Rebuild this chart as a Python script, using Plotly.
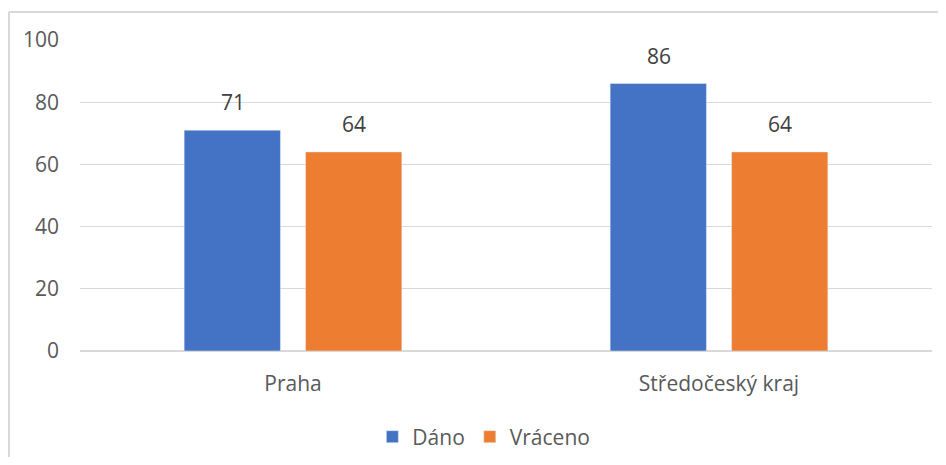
import plotly.graph_objects as go

# Datos
kraje = ["Praha", "Středočeský kraj"]
dano = [71, 86]
vraceno = [64, 64]
y_ticks = [0, 20, 40, 60, 80, 100]

modra = "#4472C4"
oranzova = "#ED7D31"
seda_text = "#595959"

# stranka ma okraj 8 px, proto je graf o 16 px mensi
W, H = 930, 449
ML, MR, MT, MB = 72, 6, 32, 106

fig = go.Figure()
fig.add_trace(go.Bar(x=kraje, y=dano, name="Dáno", marker_color=modra))
fig.add_trace(go.Bar(x=kraje, y=vraceno, name="Vráceno", marker_color=oranzova))

# popisky hodnot nad sloupci
for kraj, d, v in zip(kraje, dano, vraceno):
    for hodnota, posun in ((d, -60.5), (v, 60.5)):
        fig.add_annotation(x=kraj, y=hodnota, text=str(hodnota), showarrow=False,
                           xshift=posun, yanchor="bottom", yshift=12,
                           font=dict(size=21, color="#404040"))

# ramecek grafu (jen levy a horni okraj jsou videt)
pw, ph = W - ML - MR, H - MT - MB
x0 = (1 - ML) / pw
x1 = (W - ML) / pw
y_top = (H - MB - 4) / ph
y_bot = -MB / ph
fig.add_shape(type="line", xref="paper", yref="paper", x0=x0, x1=x0, y0=y_bot, y1=y_top,
              line=dict(color="#d9d9d9", width=2))
fig.add_shape(type="line", xref="paper", yref="paper", x0=x0, x1=x1, y0=y_top, y1=y_top,
              line=dict(color="#d9d9d9", width=2))

fig.update_layout(
    width=W, height=H,
    margin=dict(l=ML, r=MR, t=MT, b=MB, autoexpand=False),
    plot_bgcolor="white", paper_bgcolor="white",
    barmode="group", bargap=0.43, bargroupgap=0.207,
    font=dict(family="Open Sans, sans-serif", size=21, color=seda_text),
    showlegend=True,
    legend=dict(orientation="h", x=0.474, xanchor="center", y=(343 - 429) / ph,
                yanchor="middle", font=dict(size=21, color=seda_text), itemwidth=30),
)
fig.update_yaxes(range=[0, 100], tickvals=y_ticks, showgrid=True, gridcolor="#d9d9d9",
                 gridwidth=1, zeroline=True, zerolinecolor="#d9d9d9", zerolinewidth=2,
                 showline=False, ticks="", ticklabelstandoff=20, automargin=False)
fig.update_xaxes(showgrid=False, showline=False, ticks="", ticklabelstandoff=18,
                 automargin=False)

fig.write_html("out.html")
